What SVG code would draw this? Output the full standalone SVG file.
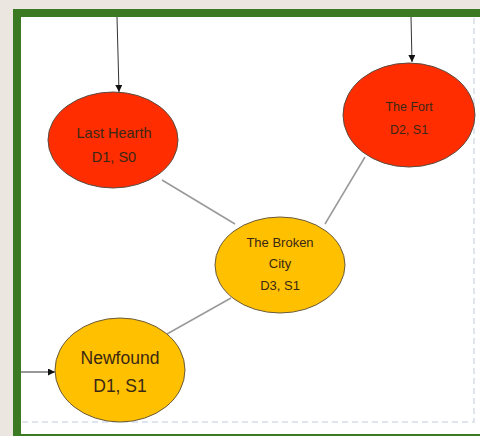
<svg xmlns="http://www.w3.org/2000/svg" width="480" height="436" viewBox="0 0 480 436">
<defs>
<style>
.node-red{fill:#ff2d00;stroke:#5a4a40;stroke-width:1}
.node-gold{fill:#ffc000;stroke:#6a5a3a;stroke-width:1}
.lbl{font-family:"Liberation Sans","Open Sans",sans-serif;fill:#3a2814;text-anchor:middle}
.edge{stroke:#999999;stroke-width:1.5;fill:none}
.arrow{stroke:#333333;stroke-width:1;fill:none;marker-end:url(#ah)}
</style>
<marker id="ah" viewBox="0 0 10 10" refX="10" refY="5" markerWidth="7" markerHeight="7" orient="auto" markerUnits="userSpaceOnUse">
<path d="M0,0 L10,5 L0,10 z" fill="#111"/>
</marker>
</defs>
<rect x="0" y="0" width="480" height="436" fill="#ebe6df"/>
<rect x="13" y="9" width="467" height="427" fill="#3b7a22"/>
<rect x="21" y="17" width="459" height="417" fill="#ffffff"/>
<path d="M474,18 V422 H22" fill="none" stroke="#d6dde8" stroke-width="1.5" stroke-dasharray="6,4"/>
<g id="connectors">
<line class="arrow" x1="117" y1="17" x2="119" y2="92"/>
<line class="arrow" x1="411" y1="17" x2="412" y2="62"/>
<line class="arrow" x1="21" y1="372" x2="55" y2="372"/>
<line class="edge" x1="162" y1="180" x2="235" y2="224"/>
<line class="edge" x1="365" y1="157" x2="325" y2="224"/>
<line class="edge" x1="231" y1="298" x2="167" y2="334"/>
</g>
<g id="last-hearth">
<ellipse class="node-red" cx="113" cy="140" rx="65" ry="48"/>
<text class="lbl" x="114" y="138" font-size="14.5">Last Hearth</text>
<text class="lbl" x="114" y="162" font-size="14.5">D1, S0</text>
</g>
<g id="the-fort">
<ellipse class="node-red" cx="409" cy="115" rx="66" ry="52"/>
<text class="lbl" x="409" y="111" font-size="12.5">The Fort</text>
<text class="lbl" x="409" y="134" font-size="12.5">D2, S1</text>
</g>
<g id="the-broken-city">
<ellipse class="node-gold" cx="280" cy="265" rx="65" ry="48"/>
<text class="lbl" x="280" y="247" font-size="13">The Broken</text>
<text class="lbl" x="280" y="268" font-size="13">City</text>
<text class="lbl" x="280" y="290" font-size="13">D3, S1</text>
</g>
<g id="newfound">
<ellipse class="node-gold" cx="120" cy="370" rx="65" ry="52"/>
<text class="lbl" x="120" y="364" font-size="17.5">Newfound</text>
<text class="lbl" x="120" y="392" font-size="17.5">D1, S1</text>
</g>
</svg>
